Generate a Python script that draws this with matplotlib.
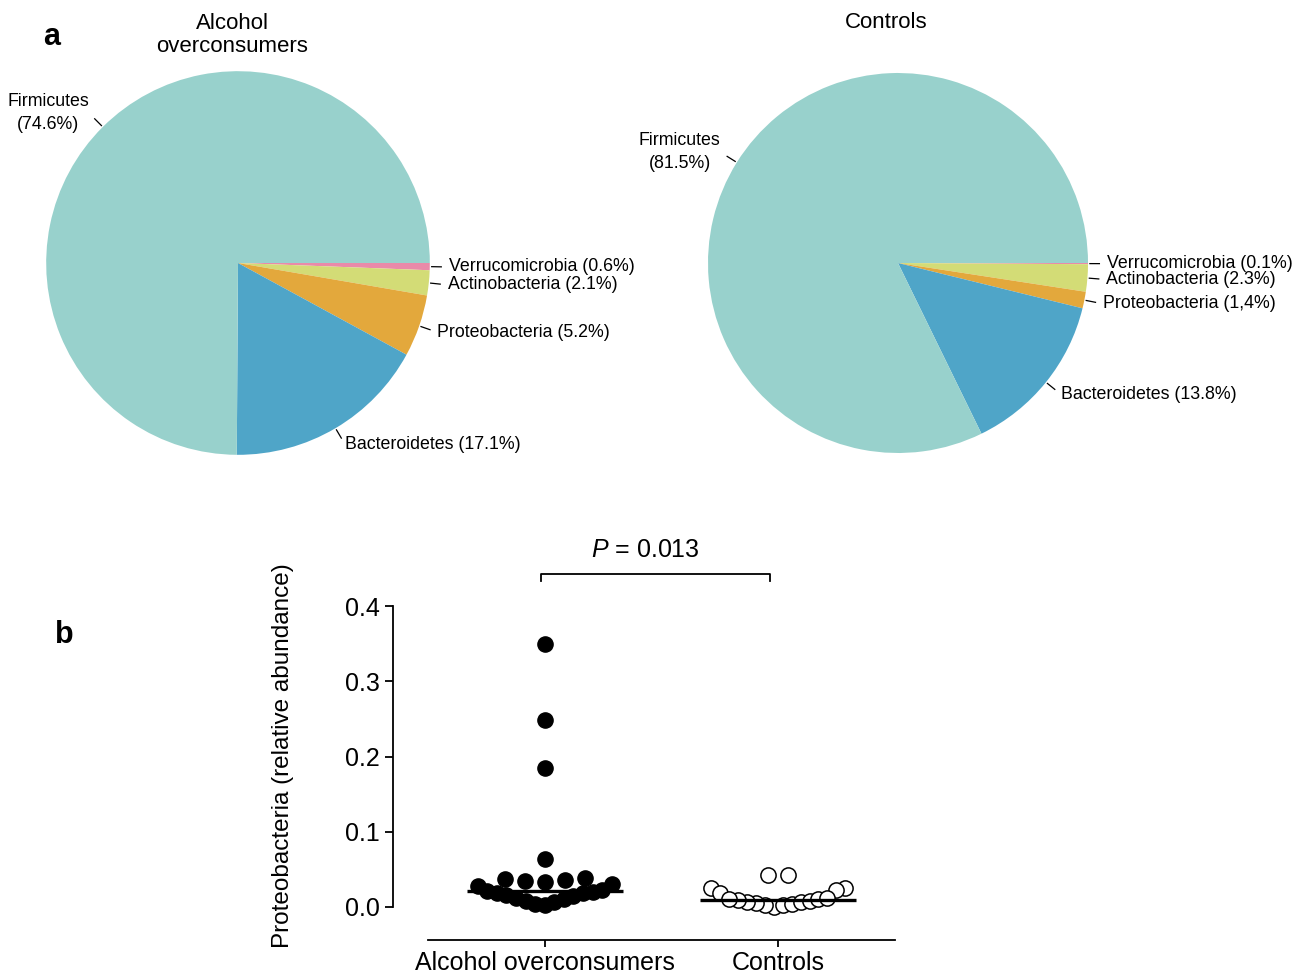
import numpy as np
import matplotlib
matplotlib.use("Agg")
import matplotlib.pyplot as plt

# ---------------- data ----------------
phyla = ["Verrucomicrobia", "Actinobacteria", "Proteobacteria", "Bacteroidetes", "Firmicutes"]
phyla_colors = ["#e98aa9", "#d3dc76", "#e3a83c", "#4fa5c8", "#98d1cc"]

alcohol_pct = [0.6, 2.1, 5.2, 17.1, 74.6]
alcohol_lbl = ["0.6%", "2.1%", "5.2%", "17.1%", "74.6%"]
controls_pct = [0.1, 2.3, 1.4, 13.8, 81.5]
controls_lbl = ["0.1%", "2.3%", "1,4%", "13.8%", "81.5%"]

groups = ["Alcohol overconsumers", "Controls"]
alcohol_vals = [0.350, 0.248, 0.185, 0.064,
                0.033, 0.035, 0.036, 0.037, 0.039,
                0.030, 0.028,
                0.003, 0.004, 0.006, 0.008, 0.010, 0.012, 0.014,
                0.016, 0.018, 0.019, 0.020, 0.021, 0.022]
control_vals = [0.043, 0.043, 0.025, 0.025, 0.019, 0.023,
                0.000, 0.002, 0.003, 0.004, 0.005, 0.006,
                0.007, 0.008, 0.009, 0.010, 0.011, 0.012]
p_text = "$P$ = 0.013"

plt.rcParams["font.family"] = ["Liberation Sans", "DejaVu Sans"]
plt.rcParams["mathtext.fontset"] = "custom"
plt.rcParams["mathtext.rm"] = "Liberation Sans"
plt.rcParams["mathtext.it"] = "Liberation Sans:italic"

W, H = 1295, 977
fig = plt.figure(figsize=(W / 100, H / 100), dpi=100)


def px_axes(cx, cy, half):
    # square axes centred on pixel (cx, cy)
    return fig.add_axes([(cx - half) / W, (H - cy - half) / H, 2 * half / W, 2 * half / H])


def draw_pie(ax, pct, lbls):
    wedges, _ = ax.pie(pct, colors=phyla_colors, startangle=0, counterclock=False,
                       radius=1.0, wedgeprops=dict(linewidth=0))
    ax.set_xlim(-1.1, 1.1)
    ax.set_ylim(-1.1, 1.1)
    for w, name, lab in zip(wedges, phyla, lbls):
        ang = np.deg2rad((w.theta1 + w.theta2) / 2)
        c, s = np.cos(ang), np.sin(ang)
        ax.plot([1.01 * c, 1.06 * c], [1.01 * s, 1.06 * s], color="black", lw=0.9,
                clip_on=False)
        if c < 0:
            ax.text(1.1 * c, 1.1 * s, f"{name}\n({lab})", ha="right", va="center",
                    multialignment="center", fontsize=12.8, linespacing=1.45)
        else:
            ax.text(1.1 * c, 1.1 * s, f"{name} ({lab})", ha="left", va="center",
                    fontsize=12.8)


# ---------------- panel a ----------------
ax1 = px_axes(238, 263, 211)
draw_pie(ax1, alcohol_pct, alcohol_lbl)
ax2 = px_axes(898, 263, 209)
draw_pie(ax2, controls_pct, controls_lbl)

fig.text(232 / W, 1 - 35 / H, "Alcohol\noverconsumers", ha="center", va="center",
         fontsize=16, linespacing=1.15)
fig.text(886 / W, 1 - 23 / H, "Controls", ha="center", va="center", fontsize=16)
fig.text(52 / W, 1 - 37 / H, "a", ha="center", va="center", fontsize=22, fontweight="bold")
fig.text(64 / W, 1 - 635 / H, "b", ha="center", va="center", fontsize=22, fontweight="bold")

# ---------------- panel b ----------------
axb = fig.add_axes([428 / W, 70 / H, 467 / W, 301 / H])
axb.set_xlim(-0.5, 1.5)
axb.set_ylim(0, 0.4)
px_per_x = 467 / 2.0


def row_offsets(vals, h=0.028, natural=20, max_half=67):
    # Prism-like layout: values grouped in rows, spread from the centre out
    vals = np.asarray(vals)
    order = np.argsort(vals)
    offs = np.zeros(len(vals))
    rows, cur, start = [], [], None
    for i in order:
        if start is None or vals[i] - start > h:
            if cur:
                rows.append(cur)
            cur, start = [i], vals[i]
        else:
            cur.append(i)
    rows.append(cur)
    for r in rows:
        n = len(r)
        if n == 1:
            continue
        sp = min(natural, 2 * max_half / (n - 1))
        if n % 2:
            slots = [0]
            k = 1
            while len(slots) < n:
                slots += [-k * sp, k * sp]
                k += 1
        else:
            slots = []
            k = 0.5
            while len(slots) < n:
                slots += [-k * sp, k * sp]
                k += 1
        for idx, o in zip(r, slots[:n]):
            offs[idx] = o / px_per_x
    return offs


for gi, (vals, filled) in enumerate([(alcohol_vals, True), (control_vals, False)]):
    xs = gi + row_offsets(vals)
    if filled:
        axb.scatter(xs, vals, s=120, color="black", zorder=3, clip_on=False)
    else:
        axb.scatter(xs, vals, s=120, facecolor="white", edgecolor="black",
                    linewidth=1.1, zorder=3, clip_on=False)
    axb.plot([gi - 0.333, gi + 0.333], [np.median(vals)] * 2, color="black", lw=2.4,
             zorder=4, solid_capstyle="butt", clip_on=False)

for side in ["top", "right"]:
    axb.spines[side].set_visible(False)
axb.spines["left"].set_position(("outward", 25))
axb.spines["bottom"].set_position(("outward", 24))
axb.spines["left"].set_bounds(0, 0.4)
axb.spines["left"].set_linewidth(1.3)
axb.spines["bottom"].set_linewidth(1.3)
axb.set_yticks([0.0, 0.1, 0.2, 0.3, 0.4])
axb.set_yticklabels(["0.0", "0.1", "0.2", "0.3", "0.4"])
axb.set_xticks([0, 1])
axb.set_xticklabels(groups)
axb.tick_params(axis="y", length=6, width=1.3, pad=4, labelsize=18)
axb.tick_params(axis="x", length=5, width=1.3, pad=3, labelsize=18)

fig.text(283 / W, 1 - 756 / H, "Proteobacteria (relative abundance)", rotation=90,
         ha="center", va="center", fontsize=17.5)

# significance bracket
axb.plot([-0.017, -0.017, 0.966, 0.966], [0.433, 0.443, 0.443, 0.433], color="black",
         lw=1.3, clip_on=False)
axb.text(0.43, 0.474, p_text, ha="center", va="center", fontsize=18)

fig.savefig("out.png", dpi=100)
